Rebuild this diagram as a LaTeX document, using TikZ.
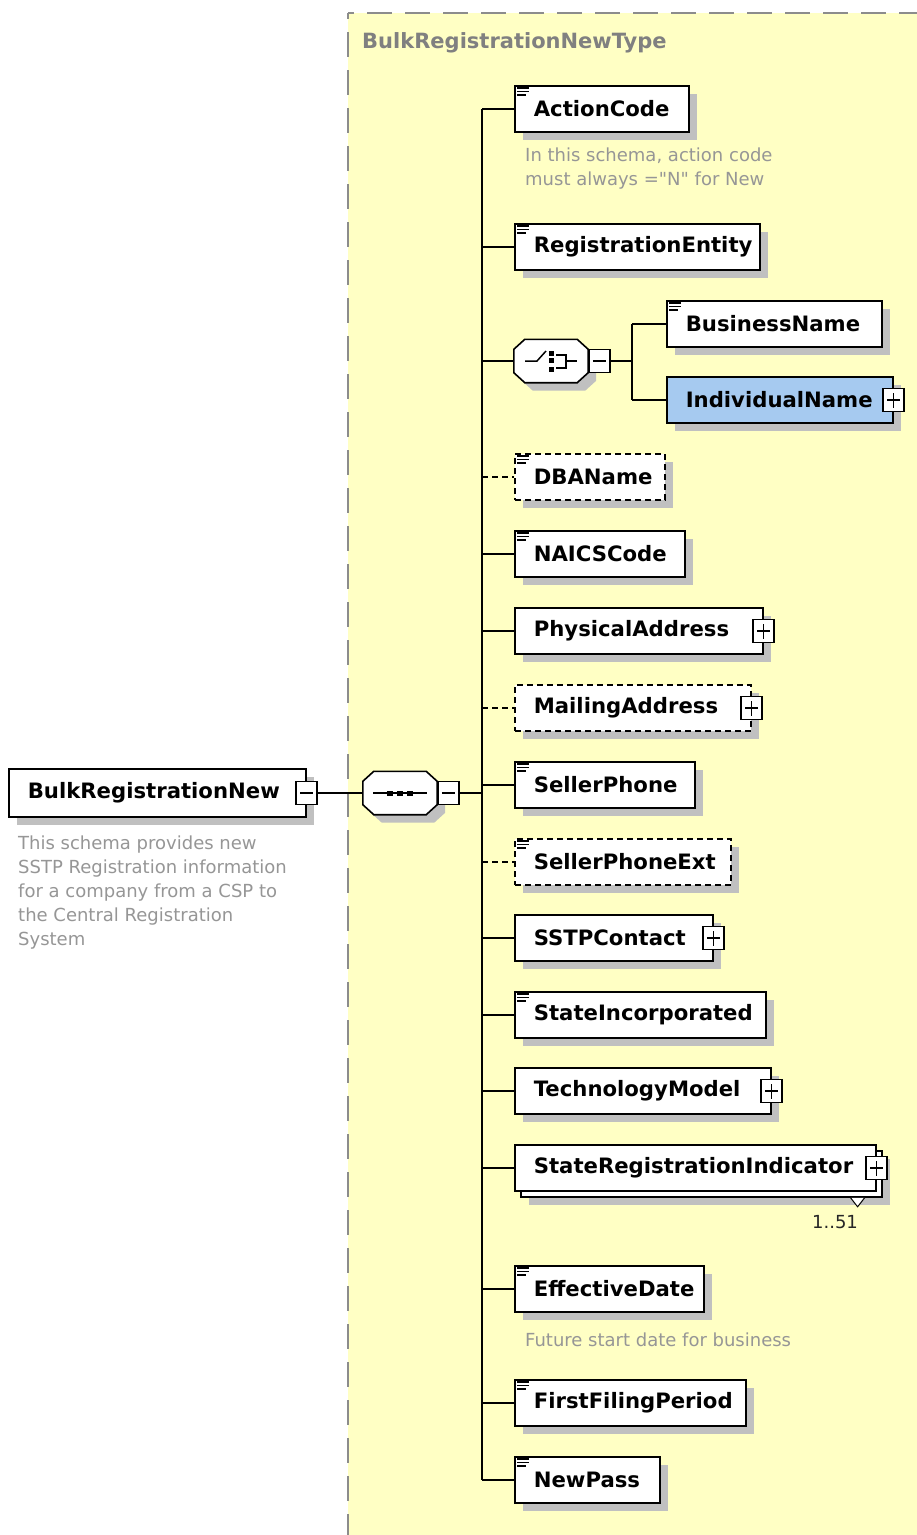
\documentclass[tikz,border=0pt]{standalone}
\usepackage{fontspec}
\setmainfont{DejaVu Sans}[Ligatures=TeXOff]
\usepackage{tikz}
\usetikzlibrary{positioning, shadows}

\definecolor{typebg}{RGB}{255,255,196}
\definecolor{typeline}{RGB}{140,140,140}
\definecolor{notegray}{RGB}{150,150,150}
\definecolor{indblue}{RGB}{166,202,240}
\definecolor{shadowgray}{RGB}{192,192,192}

\tikzset{
  conn/.style={line width=1.6pt, black},
  optional/.style={dash pattern=on 6pt off 4pt},
  elembox/.style={draw, fill=white, line width=1.6pt, anchor=west, minimum height=46pt,
    inner xsep=19pt, inner ysep=0pt, text width=#1, align=left,
    font=\fontsize{21.2}{26}\selectfont\bfseries},
  elem/.style={elembox=#1, drop shadow={shadow xshift=8pt, shadow yshift=-8pt, fill=shadowgray, opacity=1}},
  compositor/.style={minimum width=74pt, minimum height=43pt, inner sep=0pt},
  pmbox/.style={draw, fill=white, line width=1.3pt, minimum width=21pt, minimum height=23pt, inner sep=0pt},
  minusbox/.style={pmbox, path picture={
    \draw[line width=1.3pt] ([xshift=4pt]path picture bounding box.west) -- ([xshift=-4pt]path picture bounding box.east);}},
  plusbox/.style={pmbox, path picture={
    \draw[line width=1.3pt] ([xshift=4pt]path picture bounding box.west) -- ([xshift=-4pt]path picture bounding box.east);
    \draw[line width=1.3pt] ([yshift=4pt]path picture bounding box.south) -- ([yshift=-4pt]path picture bounding box.north);}},
  note/.style={text=notegray, align=left, inner sep=0pt, font=\fontsize{18}{24}\selectfont},
  typelabel/.style={text=black!50, inner sep=0pt, font=\fontsize{21}{25}\selectfont\bfseries},
  card/.style={text=black!85, inner sep=0pt, font=\fontsize{18}{22}\selectfont}
}

\begin{document}
\begin{tikzpicture}[x=1pt, y=-1pt]
\fill[white] (0,0) rectangle (917,1535);
\useasboundingbox (0,0) rectangle (917,1535);
\fill[typebg] (348,13) rectangle (917,1535);
\draw[typeline, line width=2pt, dash pattern=on 25pt off 13pt, dash phase=19pt] (348,13) -- (917,13);
\draw[typeline, line width=2pt, dash pattern=on 25pt off 13pt, dash phase=19pt] (348,13) -- (348,1535);
\node[typelabel, anchor=west] (tname) at (362,43) {BulkRegistrationNewType};

% root element and its sequence
\node[elem=259, minimum height=48pt] (brn) at (8,793) {BulkRegistrationNew};
\node[minusbox] (brnm) at (brn.east) {};
\node[note, anchor=north west] (brnnote) at (18,836) {This schema provides new\\SSTP Registration information\\for a company from a CSP to\\the Central Registration\\System};
\node[compositor] (seq) at (400,793) {};
\node[minusbox, right=0pt of seq] (seqm) {};
\coordinate (trunk) at (482,793);

% children
\node[elem=136] (act) at (514,109) {ActionCode};
\node[note, anchor=north west] (actnote) at (525,148) {In this schema, action code\\must always ="N" for New};
\node[elem=207] (reg) at (514,247) {RegistrationEntity};
\node[compositor] (cho) at (551,361) {};
\node[minusbox, right=0pt of cho] (chom) {};
\coordinate (fork) at (632,361);
\node[elem=177] (bn) at (666,324) {BusinessName};
\node[elem=188, fill=indblue] (ind) at (666,400) {IndividualName};
\node[elem=112, optional] (dba) at (514,477) {DBAName};
\node[elem=132] (naics) at (514,554) {NAICSCode};
\node[elem=210] (phys) at (514,631) {PhysicalAddress};
\node[elem=198, optional] (mail) at (514,708) {MailingAddress};
\node[elem=142] (sp) at (514,785) {SellerPhone};
\node[elem=178, optional] (spe) at (514,862) {SellerPhoneExt};
\node[elem=160] (sstp) at (514,938) {SSTPContact};
\node[elem=213] (stinc) at (514,1015) {StateIncorporated};
\node[elem=218] (tech) at (514,1091) {TechnologyModel};
\node[elem=323] (sriback) at (520,1174) {};
\node[elembox=323] (sri) at (514,1168) {StateRegistrationIndicator};
\node[elem=151] (eff) at (514,1289) {EffectiveDate};
\node[note, anchor=west] (effnote) at (525,1340) {Future start date for business};
\node[elem=193] (ffp) at (514,1403) {FirstFilingPeriod};
\node[elem=107] (np) at (514,1480) {NewPass};

\node[plusbox] (indp) at (ind.east) {};
\node[plusbox] (physp) at (phys.east) {};
\node[plusbox] (mailp) at (mail.east) {};
\node[plusbox] (sstpp) at (sstp.east) {};
\node[plusbox] (techp) at (tech.east) {};
\node[plusbox] (srip) at (sri.east) {};
\draw[line width=1pt, fill=white] ([xshift=-32pt]sriback.south east) -- ++(7,9) -- ++(7,-9);
\node[card] (sricard) at (835,1222) {1..51};

% octagons
\foreach \n in {seq, cho} {
  \fill[shadowgray] ([shift={(19pt,-8pt)}]\n.north west) -- ([shift={(-3pt,-8pt)}]\n.north east)
    -- ([shift={(8pt,-18pt)}]\n.north east) -- ([shift={(8pt,2pt)}]\n.south east)
    -- ([shift={(-3pt,-8pt)}]\n.south east) -- ([shift={(19pt,-8pt)}]\n.south west)
    -- ([shift={(8pt,2pt)}]\n.south west) -- ([shift={(8pt,-18pt)}]\n.north west) -- cycle;
  \filldraw[fill=white, line width=1.6pt] ([xshift=11pt]\n.north west) -- ([xshift=-11pt]\n.north east)
    -- ([yshift=-10pt]\n.north east) -- ([yshift=10pt]\n.south east)
    -- ([xshift=-11pt]\n.south east) -- ([xshift=11pt]\n.south west)
    -- ([yshift=10pt]\n.south west) -- ([yshift=-10pt]\n.north west) -- cycle;
}
\node[minusbox] at (seqm) {};
\node[minusbox] at (chom) {};

% connectors
\draw[conn] (brnm) -- (seq);
\draw[conn] (seqm) -- (trunk);
\draw[conn] (trunk |- act.west) -- (trunk |- np.west);
\foreach \n in {act, reg, cho, naics, phys, sp, sstp, stinc, tech, sri, eff, ffp, np}
  \draw[conn] (trunk |- \n.west) -- (\n.west);
\foreach \n in {dba, mail, spe}
  \draw[conn, optional] (trunk |- \n.west) -- (\n.west);
\draw[conn] (chom) -- (fork);
\draw[conn] (fork |- bn.west) -- (fork |- ind.west);
\draw[conn] (fork |- bn.west) -- (bn.west);
\draw[conn] (fork |- ind.west) -- (ind.west);

% symbols
\foreach \n in {act, reg, bn, dba, naics, sp, spe, stinc, eff, ffp, np}
  \draw[line width=1.5pt] ([xshift=3pt,yshift=-3pt]\n.north west) -- ++(12,0)
    ([xshift=3pt,yshift=-6.5pt]\n.north west) -- ++(12,0)
    ([xshift=3pt,yshift=-10pt]\n.north west) -- ++(9,0);
\draw[line width=1.5pt] ([xshift=-27pt]seq.center) -- ([xshift=27pt]seq.center);
\foreach \dx in {-10,0,10}
  \fill ([xshift=\dx pt]seq.center) ++(-3,-2.5) rectangle ++(6,5);
\draw[line width=1.5pt] ([xshift=-26pt]cho.center) -- ++(12,0) -- ++(9,-10);
\foreach \dy in {-8,-1,8}
  \fill ([yshift=-\dy pt]cho.center) ++(-2.5,-2.5) rectangle ++(5,5);
\draw[line width=1.5pt] ([xshift=5pt,yshift=6pt]cho.center) -- ++(10,0) -- ++(0,13) -- ++(-10,0);
\draw[line width=1.5pt] ([xshift=15pt]cho.center) -- ++(11,0);
\end{tikzpicture}
\end{document}
